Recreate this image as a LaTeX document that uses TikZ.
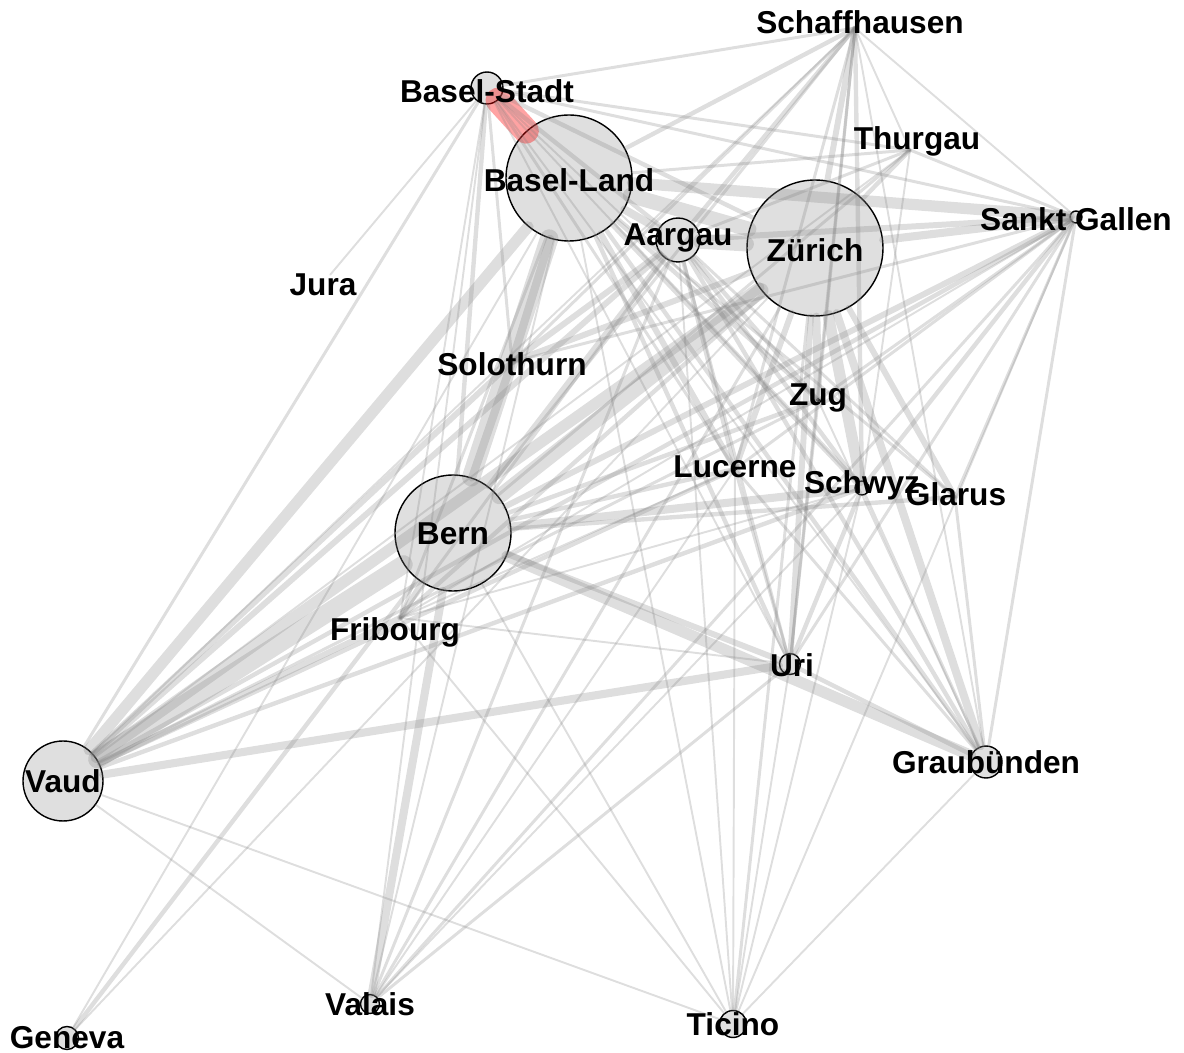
\documentclass[tikz,border=0pt]{standalone}
\usepackage{fontspec}
\setmainfont{Liberation Sans}
\usepackage{tikz}
\tikzstyle{canton} = [circle, draw=black, fill=gray!25, line width=0.8pt, inner sep=0pt]
\tikzstyle{spot} = [circle, inner sep=0pt, minimum size=0pt]
\tikzstyle{cantonname} = [font=\fontsize{18}{20}\selectfont\bfseries, inner sep=0pt]
\tikzstyle{link} = [draw=black!50, draw opacity=0.26, line cap=round]
\tikzstyle{link1} = [link, line width=1.1pt]
\tikzstyle{link2} = [link, line width=1.7pt]
\tikzstyle{link3} = [link, line width=2.5pt]
\tikzstyle{link4} = [link, line width=3.4pt]
\tikzstyle{link5} = [link, line width=4.6pt]
\tikzstyle{link6} = [link, line width=6.4pt]
\tikzstyle{link7} = [link, line width=8.5pt]
\tikzstyle{link8} = [link, line width=10.5pt]
\tikzstyle{redlink} = [draw=red, draw opacity=0.36, line cap=round, line width=14.5pt]

\begin{document}
\begin{tikzpicture}[x=0.02cm, y=-0.02cm]
    \useasboundingbox (0,0) rectangle (1184,1053);

    % cantons, circle size = weight
    \node (basels) [canton, minimum size=0.64cm] at (487,88) {};
    \node (basell) [canton, minimum size=2.52cm] at (569,178) {};
    \node (aargau) [canton, minimum size=0.88cm] at (678,240) {};
    \node (zurich) [canton, minimum size=2.72cm] at (815,248) {};
    \node (sgallen) [canton, minimum size=0.24cm] at (1076,217) {};
    \node (thurgau) [spot] at (910,150) {};
    \node (schaff) [spot] at (855,28) {};
    \node (jura) [spot] at (330,275) {};
    \node (solo) [spot] at (512,362) {};
    \node (zug) [canton, minimum size=0.06cm] at (818,400) {};
    \node (lucerne) [canton, minimum size=0.06cm] at (735,469) {};
    \node (schwyz) [canton, minimum size=0.28cm] at (862,488) {};
    \node (glarus) [spot] at (955,497) {};
    \node (bern) [canton, minimum size=2.32cm] at (453,533) {};
    \node (fribourg) [spot] at (400,618) {};
    \node (uri) [canton, minimum size=0.42cm] at (790,664) {};
    \node (graub) [canton, minimum size=0.64cm] at (986,762) {};
    \node (vaud) [canton, minimum size=1.6cm] at (63,781) {};
    \node (geneva) [canton, minimum size=0.46cm] at (67,1038) {};
    \node (valais) [canton, minimum size=0.38cm] at (370,1004) {};
    \node (ticino) [canton, minimum size=0.54cm] at (733,1024) {};

    % heaviest links
    \draw [redlink] (basels) -- (basell);
    \draw [link8] (basell) -- (bern);
    \draw [link8] (vaud) -- (bern);
    \draw [link7] (basell) -- (zurich);
    \draw [link7] (bern) -- (zurich);
    \draw [link7] (aargau) -- (zurich);
    \draw [link6] (vaud) -- (zurich);
    \draw [link6] (vaud) -- (basell);
    \draw [link6] (zurich) -- (schwyz);
    \draw [link6] (bern) -- (graub);
    \draw [link6] (basell) -- (sgallen);
    \draw [link5] (basell) -- (aargau);
    \draw [link5] (zurich) -- (sgallen);
    \draw [link5] (bern) -- (valais);
    \draw [link5] (vaud) -- (uri);
    \draw [link5] (basell) -- (solo);
    \draw [link5] (bern) -- (solo);
    \draw [link5] (zurich) -- (graub);
    \draw [link5] (bern) -- (schwyz);
    \draw [link5] (zurich) -- (zug);

    % medium links
    \draw [link4] (aargau) -- (bern);
    \draw [link4] (aargau) -- (solo);
    \draw [link4] (aargau) -- (vaud);
    \draw [link4] (zurich) -- (lucerne);
    \draw [link4] (zurich) -- (solo);
    \draw [link4] (bern) -- (uri);
    \draw [link4] (bern) -- (sgallen);
    \draw [link4] (basell) -- (schwyz);
    \draw [link4] (aargau) -- (sgallen);
    \draw [link4] (vaud) -- (solo);
    \draw [link4] (vaud) -- (fribourg);
    \draw [link4] (bern) -- (fribourg);
    \draw [link4] (zurich) -- (uri);
    \draw [link4] (zurich) -- (glarus);
    \draw [link4] (zurich) -- (schaff);
    \draw [link4] (basell) -- (lucerne);
    \draw [link3] (aargau) -- (lucerne);
    \draw [link3] (aargau) -- (schwyz);
    \draw [link3] (aargau) -- (zug);
    \draw [link3] (aargau) -- (schaff);
    \draw [link3] (aargau) -- (graub);
    \draw [link3] (basell) -- (zug);
    \draw [link3] (basell) -- (graub);
    \draw [link3] (basell) -- (uri);
    \draw [link3] (basell) -- (schaff);
    \draw [link3] (bern) -- (lucerne);
    \draw [link3] (bern) -- (zug);
    \draw [link3] (bern) -- (glarus);
    \draw [link3] (zurich) -- (thurgau);
    \draw [link3] (zurich) -- (fribourg);
    \draw [link3] (vaud) -- (lucerne);
    \draw [link3] (vaud) -- (sgallen);
    \draw [link3] (vaud) -- (schwyz);
    \draw [link3] (sgallen) -- (schwyz);
    \draw [link3] (basels) -- (zurich);
    \draw [link3] (basels) -- (aargau);
    \draw [link3] (basels) -- (bern);
    \draw [link3] (geneva) -- (bern);
    \draw [link3] (uri) -- (schwyz);
    \draw [link3] (schaff) -- (schwyz);
    \draw [link3] (uri) -- (graub);

    % light links
    \draw [link2] (basels) -- (solo);
    \draw [link2] (basels) -- (vaud);
    \draw [link2] (basels) -- (sgallen);
    \draw [link2] (basels) -- (schaff);
    \draw [link2] (basels) -- (lucerne);
    \draw [link2] (basels) -- (thurgau);
    \draw [link2] (basell) -- (thurgau);
    \draw [link2] (basell) -- (fribourg);
    \draw [link2] (basell) -- (glarus);
    \draw [link2] (aargau) -- (thurgau);
    \draw [link2] (aargau) -- (uri);
    \draw [link2] (aargau) -- (glarus);
    \draw [link2] (aargau) -- (fribourg);
    \draw [link2] (bern) -- (thurgau);
    \draw [link2] (bern) -- (schaff);
    \draw [link2] (vaud) -- (zug);
    \draw [link2] (sgallen) -- (glarus);
    \draw [link2] (sgallen) -- (uri);
    \draw [link2] (sgallen) -- (lucerne);
    \draw [link2] (sgallen) -- (zug);
    \draw [link2] (sgallen) -- (graub);
    \draw [link2] (sgallen) -- (solo);
    \draw [link2] (sgallen) -- (thurgau);
    \draw [link2] (schaff) -- (zug);
    \draw [link2] (schaff) -- (lucerne);
    \draw [link2] (schaff) -- (solo);
    \draw [link2] (schaff) -- (uri);
    \draw [link2] (uri) -- (lucerne);
    \draw [link2] (uri) -- (zug);
    \draw [link2] (graub) -- (schwyz);
    \draw [link2] (graub) -- (glarus);
    \draw [link2] (graub) -- (lucerne);
    \draw [link2] (zurich) -- (ticino);
    \draw [link2] (zurich) -- (valais);
    \draw [link2] (valais) -- (aargau);
    \draw [link2] (valais) -- (sgallen);
    \draw [link2] (valais) -- (uri);

    % faint links
    \draw [link1] (basels) -- (jura);
    \draw [link1] (basels) -- (zug);
    \draw [link1] (basels) -- (schwyz);
    \draw [link1] (basels) -- (fribourg);
    \draw [link1] (basels) -- (graub);
    \draw [link1] (basels) -- (uri);
    \draw [link1] (basels) -- (valais);
    \draw [link1] (basell) -- (geneva);
    \draw [link1] (basell) -- (valais);
    \draw [link1] (basell) -- (ticino);
    \draw [link1] (geneva) -- (zurich);
    \draw [link1] (vaud) -- (valais);
    \draw [link1] (vaud) -- (ticino);
    \draw [link1] (vaud) -- (schaff);
    \draw [link1] (vaud) -- (thurgau);
    \draw [link1] (sgallen) -- (fribourg);
    \draw [link1] (sgallen) -- (ticino);
    \draw [link1] (sgallen) -- (schaff);
    \draw [link1] (schaff) -- (thurgau);
    \draw [link1] (schaff) -- (graub);
    \draw [link1] (uri) -- (ticino);
    \draw [link1] (uri) -- (fribourg);
    \draw [link1] (graub) -- (ticino);
    \draw [link1] (graub) -- (zug);
    \draw [link1] (ticino) -- (lucerne);
    \draw [link1] (ticino) -- (schwyz);
    \draw [link1] (ticino) -- (fribourg);
    \draw [link1] (ticino) -- (aargau);
    \draw [link1] (ticino) -- (bern);
    \draw [link1] (valais) -- (schwyz);
    \draw [link1] (valais) -- (lucerne);
    \draw [link1] (fribourg) -- (lucerne);
    \draw [link1] (fribourg) -- (schwyz);
    \draw [link1] (thurgau) -- (schwyz);

    % names on top
    \node (tbasels) [cantonname] at (487,91) {Basel-Stadt};
    \node (tbasell) [cantonname] at (569,180) {Basel-Land};
    \node (taargau) [cantonname] at (678,238) {Aargau};
    \node (tzurich) [cantonname] at (815,250) {Zürich};
    \node (tsgallen) [cantonname] at (1076,219) {Sankt Gallen};
    \node (tthurgau) [cantonname] at (917,141) {Thurgau};
    \node (tschaff) [cantonname] at (860,22) {Schaffhausen};
    \node (tjura) [cantonname] at (323,285) {Jura};
    \node (tsolo) [cantonname] at (512,364) {Solothurn};
    \node (tzug) [cantonname] at (818,398) {Zug};
    \node (tlucerne) [cantonname] at (735,467) {Lucerne};
    \node (tschwyz) [cantonname] at (862,485) {Schwyz};
    \node (tglarus) [cantonname] at (956,494) {Glarus};
    \node (tbern) [cantonname] at (453,534) {Bern};
    \node (tfribourg) [cantonname] at (395,632) {Fribourg};
    \node (turi) [cantonname] at (792,665) {Uri};
    \node (tgraub) [cantonname] at (986,762) {Graubünden};
    \node (tvaud) [cantonname] at (63,781) {Vaud};
    \node (tgeneva) [cantonname] at (67,1038) {Geneva};
    \node (tvalais) [cantonname] at (370,1004) {Valais};
    \node (tticino) [cantonname] at (733,1024) {Ticino};
\end{tikzpicture}
\end{document}
